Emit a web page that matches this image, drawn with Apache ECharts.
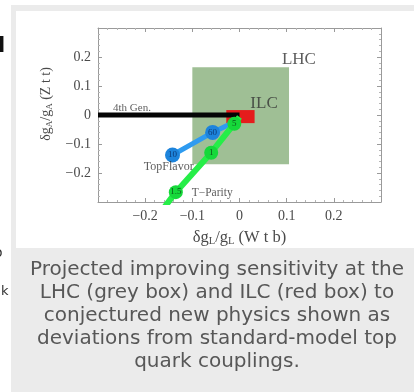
<!DOCTYPE html>
<html>
<head>
<meta charset="utf-8">
<script src="https://cdn.jsdelivr.net/npm/echarts@6/dist/echarts.min.js"></script>
<style>
  html, body { margin: 0; padding: 0; background: #fff; }
  #main { width: 414px; height: 392px; }
</style>
</head>
<body>
<div id="main"></div>
<script>
// values (δg_L/g_L , δg_A/g_A)
const axisRange = [-0.3, 0.3];
const tickLabels = { '-0.2': '\u22120.2', '-0.1': '\u22120.1', '0': '0', '0.1': '0.1', '0.2': '0.2' };
const fourthGen = [[-0.3, 0], [0, 0]];
const topFlavor = [[-0.142, -0.138], [-0.057, -0.06], [-0.012, -0.025]];
const topFlavorTags = ['10', '60', ''];
const tParity = [[-0.16, -0.32], [-0.135, -0.266], [-0.06, -0.13], [-0.011, -0.03], [0.0, -0.007]];
const tParityTags = ['', '1.5', '1', '5', ''];
const lhcBox = [[-0.1, 0.165], [0.105, -0.17]];
const ilcBox = [[-0.028, 0.017], [0.032, -0.028]];
const noteNames = ['4th Gen.', 'TopFlavor', 'T\u2212Parity', 'LHC', 'ILC'];
const notePos = [[-0.228, 0.024], [-0.15, -0.18], [-0.058, -0.27], [0.126, 0.19], [0.052, 0.038]];
const noteSize = [11, 12, 11.5, 17, 17];
const caption = [
    'Projected improving sensitivity at the',
    'LHC (grey box) and ILC (red box) to',
    'conjectured new physics shown as',
    'deviations from standard-model top',
    'quark couplings.'
];

const serif = '"Liberation Serif", "DejaVu Serif", serif';
const chart = echarts.init(document.getElementById('main'));

// 带标号的折线点
const tagged = (pts, tags, size) => pts.map((p, i) => ({
    value: p,
    symbolSize: tags[i] ? size : 0,
    label: { show: !!tags[i], formatter: tags[i] }
}));

const boxAxis = (pos, labels) => ({
    type: 'value',
    position: pos,
    min: axisRange[0],
    max: axisRange[1],
    interval: 0.1,
    axisLine: { show: true, onZero: false, lineStyle: { color: '#9a9a9a', width: 1 } },
    axisTick: { show: true, inside: true, length: 4, lineStyle: { color: '#9a9a9a' } },
    minorTick: { show: true, splitNumber: 5, length: 2, lineStyle: { color: '#b5b5b5' } },
    splitLine: { show: false },
    axisLabel: labels ? {
        show: true,
        color: '#4a4a4a',
        fontFamily: serif,
        fontSize: 14,
        margin: 7,
        formatter: v => tickLabels[String(Math.round(v * 10) / 10)] || ''
    } : { show: false }
});

const option = {
    backgroundColor: '#fff',
    animation: false,
    grid: { left: 98, right: 33, top: 28, bottom: 190 },
    xAxis: [
        Object.assign(boxAxis('bottom', true), {
            name: '{a|δg}{s|L}{a|/g}{s|L}{a| (W t b)}',
            nameLocation: 'middle',
            nameGap: 27,
            nameTextStyle: {
                rich: {
                    a: { fontFamily: serif, fontSize: 16.5, color: '#4a4a4a' },
                    s: { fontFamily: serif, fontSize: 10.5, color: '#4a4a4a', padding: [7, 0, 0, 0] }
                }
            }
        }),
        boxAxis('top', false)
    ],
    yAxis: [boxAxis('left', true), boxAxis('right', false)],
    graphic: [
        { type: 'rect', z: -2, shape: { x: 11, y: 5, width: 403, height: 387 }, style: { fill: '#ebebeb' } },
        { type: 'rect', z: -1, shape: { x: 16, y: 11, width: 398, height: 237 }, style: { fill: '#fff' } },
        {
            type: 'text', x: 46, y: 104, rotation: Math.PI / 2,
            style: {
                text: '{a|δg}{s|A}{a|/g}{s|A}{a| (Z t t)}',
                align: 'center', verticalAlign: 'middle',
                rich: {
                    a: { fontFamily: serif, fontSize: 14, fill: '#4a4a4a' },
                    s: { fontFamily: serif, fontSize: 9, fill: '#4a4a4a', padding: [7, 0, 0, 0] }
                }
            }
        },
        {
            type: 'text', x: 217, y: 316,
            style: {
                text: caption.join('\n'),
                align: 'center', verticalAlign: 'middle',
                font: '20px "DejaVu Sans", sans-serif',
                lineHeight: 23,
                fill: '#575757'
            }
        },
        { type: 'text', x: -2, y: 36, style: { text: 'l', font: 'bold 21px "DejaVu Sans", sans-serif', fill: '#111' } },
        { type: 'text', x: -6, y: 246, style: { text: 'o', font: '14px "DejaVu Sans", sans-serif', fill: '#333' } },
        { type: 'text', x: 1, y: 285, style: { text: 'k', font: '13px "DejaVu Sans", sans-serif', fill: '#333' } }
    ],
    series: [
        {
            name: 'LHC', type: 'line', data: [], z: 1,
            markArea: {
                silent: true,
                itemStyle: { color: '#9fbf95', opacity: 1 },
                data: [[{ coord: lhcBox[0] }, { coord: lhcBox[1] }]]
            }
        },
        {
            name: 'ILC', type: 'line', data: [], z: 2,
            markArea: {
                silent: true,
                itemStyle: { color: '#e51c1c', opacity: 1 },
                data: [[{ coord: ilcBox[0] }, { coord: ilcBox[1] }]]
            }
        },
        {
            name: '4th Gen.', type: 'line', data: fourthGen, z: 3,
            symbol: 'none',
            lineStyle: { color: '#050505', width: 5 }
        },
        {
            name: 'TopFlavor', type: 'line', data: tagged(topFlavor, topFlavorTags, 15), z: 4,
            symbol: 'circle',
            lineStyle: { color: '#2e9bf0', width: 5 },
            itemStyle: { color: '#1d84dc' },
            label: { position: 'inside', fontFamily: serif, fontSize: 9, color: '#0b3a78' }
        },
        {
            name: 'T-Parity', type: 'line', data: tagged(tParity, tParityTags, 14), z: 5,
            symbol: 'circle',
            lineStyle: { color: '#26ee48', width: 6 },
            itemStyle: { color: '#16d83a' },
            label: { position: 'inside', fontFamily: serif, fontSize: 9, color: '#0a5a18' }
        },
        {
            name: 'notes', type: 'scatter', z: 6,
            symbolSize: 0,
            data: noteNames.map((n, i) => ({
                name: n,
                value: notePos[i],
                label: { fontSize: noteSize[i] }
            })),
            label: {
                show: true, position: 'inside', formatter: '{b}',
                fontFamily: serif, color: '#333'
            }
        }
    ]
};
chart.setOption(option);
</script>
</body>
</html>
